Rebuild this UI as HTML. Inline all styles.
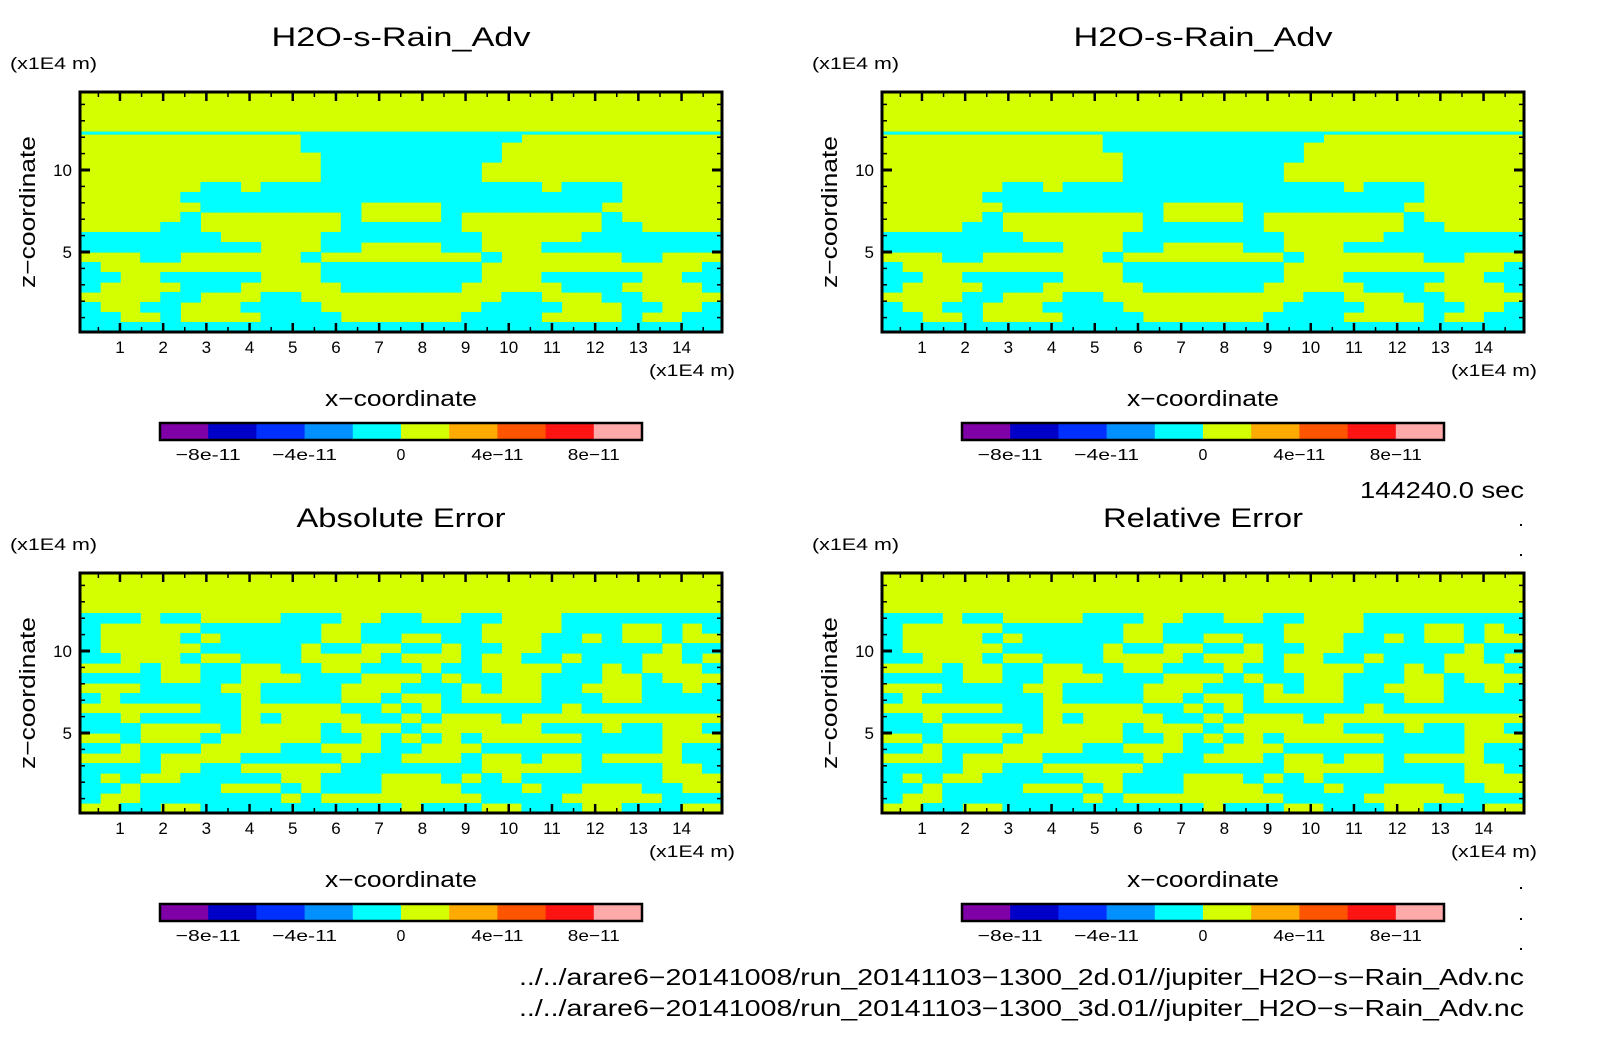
<!DOCTYPE html>
<html><head><meta charset="utf-8"><style>
html,body{margin:0;padding:0;background:#fff;}
svg{display:block;font-family:"Liberation Sans",sans-serif;}
</style></head><body>
<svg id="fig" width="1604" height="1054" viewBox="0 0 1604 1054" xmlns="http://www.w3.org/2000/svg"></svg>
<script>
// ---- data ----
const panelTitles = ["H2O-s-Rain_Adv","H2O-s-Rain_Adv","Absolute Error","Relative Error"];
const panelTitleWidths = [259,259,209,200];
const xTicks = [1,2,3,4,5,6,7,8,9,10,11,12,13,14];
const yTicks = [5,10];
const colorbarColors = ["#8000a8","#0000c8","#0030ff","#0090ff","#00ffff","#d4ff00","#ffaa00","#ff5500","#ff1414","#ffaaaa"];
const colorbarLabels = ["-8e-11","-4e-11","0","4e-11","8e-11"];
const colorbarLabelIdx = [1,3,5,7,9];
const thinLineLevel = 12.25;
const fieldTop = [
"................................",
"................................",
"................................",
"................................",
"...........ccccccccccc..........",
"...........cccccccccc...........",
"............ccccccccc...........",
"............cccccccc............",
"............cccccccc............",
"......cc.cccccccccccccc.ccc.....",
".....cccccccccccccccccccccc.....",
"......cccccccc....cccccccc......",
".....c.......c....c.......c.....",
"....cc.......cccccc.......cc....",
"ccccccc.....cccccccc.....ccccccc",
"ccccccccc...cc....cc...ccccccccc",
"...cc......c........c......cc...",
"c...........cccccccc...........c",
"cc..ccccc...cccccccc...ccccc..cc",
"c....ccc.....cccccc.....ccc....c",
"....cc...cc..........cc...cc....",
"c..cc...cccc........cccc...cc..c",
"cc..c....cccc......cccc....c..cc",
"cccccccccccccccccccccccccccccccc"];
const fieldErr = [
"................................",
"................................",
"................................",
"................................",
"ccc.cc....ccc..cc..cc...cccccccc",
"c.....cccccc..cccccc....ccc..c.c",
"c....c.ccccc..cc..cc...cc.c..c..",
"c.....ccccc.cc..cc.cc..cccccc.cc",
"cc...c..ccc....c...c..cc.ccc..c.",
"...c..cc..cc..ccc.cc....cc.c...c",
"cccc..cc...ccc...c.cc..ccc..c...",
"...cccc..cccc...ccc.c..cc...cc.c",
"c.cccccc.cccc..c..c....ccc..cccc",
"......cc.....cc.c.cccccc.ccccccc",
"cc.ccccc.c....cc.c...c..........",
"ccc....c....c...c......ccc.cc..c",
"..c...c.....cc.c.c.c.....cccc...",
"cc.ccc....cc...cc...ccccccccc.cc",
"...c....ccccc.cc...c..c..c....cc",
"cccc..cc.....ccccccc.....cccc..c",
"c.c..ccccc..ccc...c.c.ccccccc...",
"cc.cccc...c.ccc....ccc.cc...cc..",
"c..ccccccc.c........cccc.....ccc",
"..cc..cccccccccc.ccc..ccc..ccc.."];
const fields = [fieldTop, fieldTop, fieldErr, fieldErr];

// ---- layout ----
const NS = "http://www.w3.org/2000/svg";
const svg = document.getElementById('fig');
const panels = [{x:80,y:92},{x:882,y:92},{x:80,y:573},{x:882,y:573}];
const PW = 642, PH = 240, X0 = 0.075, XS = 43.2, YS = 16.4;
const YEL = "#d4ff00", CYA = "#00ffff";
function el(tag, attrs, parent){ const e=document.createElementNS(NS,tag); for(const k in attrs) e.setAttribute(k,attrs[k]); (parent||svg).appendChild(e); return e; }
function txt(s, attrs, parent){ const e=el('text',attrs,parent); e.textContent=s; return e; }
function fit(attrs, w){ attrs.textLength = w; attrs.lengthAdjust = 'spacingAndGlyphs'; return attrs; }

panels.forEach((p, pi) => {
  const g = el('g', {});
  
  
  const xs = v => p.x + (v - X0) * XS;
  const ys = v => p.y + PH + 2 - v * YS;
  const cx = p.x + PW/2;
  const t = txt(panelTitles[pi], fit({x:cx, y:p.y-46, 'font-size':27, 'text-anchor':'middle', fill:'#000'}, panelTitleWidths[pi]), g);
  
  
  const yu = txt('(x1E4 m)', fit({x:p.x-70, y:p.y-23, 'font-size':17, fill:'#000'}, 87), g);
  
  
  // field cells
  const fg = el('g', {}, g);
  
  
  el('rect', {x:p.x, y:p.y, width:PW, height:PH, fill:YEL}, fg);
  const field = fields[pi];
  const nr = field.length, nc = field[0].length;
  const cw = PW/nc, ch = PH/nr;
  field.forEach((row, r) => {
    for (let c = 0; c < nc; c++) {
      if (row[c] === 'c') {
        const cell = el('rect', {x:p.x + c*cw, y:p.y + r*ch, width:cw+0.6, height:ch+0.6, fill:CYA}, fg);
        
        
      }
    }
  });
  if (pi < 2) {
    const ln = el('rect', {x:p.x, y:ys(thinLineLevel)-1.5, width:PW, height:3, fill:CYA}, fg);
    
    
  }
  // frame
  const fr = el('rect', {x:p.x, y:p.y, width:PW, height:PH, fill:'none', stroke:'#000', 'stroke-width':3}, g);
  
  
  // x ticks
  for (let v = 0.5; v < 15; v += 0.5) {
    const X = xs(v); if (X <= p.x+2 || X >= p.x+PW-2) continue;
    const major = Number.isInteger(v) && xTicks.includes(v);
    const L = major ? 9 : 5, w = major ? 2.5 : 1.5;
    el('line', {x1:X, y1:p.y, x2:X, y2:p.y+L, stroke:'#000', 'stroke-width':w}, g);
    el('line', {x1:X, y1:p.y+PH, x2:X, y2:p.y+PH-L, stroke:'#000', 'stroke-width':w}, g);
  }
  xTicks.forEach(v => {
    const l = txt(String(v), {x:xs(v), y:p.y+PH+21, 'font-size':17, 'text-anchor':'middle', fill:'#000'}, g);
    
    
  });
  // y ticks
  for (let v = 1; v <= 14; v++) {
    const Y = ys(v);
    const major = yTicks.includes(v);
    const L = major ? 10 : 5, w = major ? 3 : 1.5;
    el('line', {x1:p.x, y1:Y, x2:p.x+L, y2:Y, stroke:'#000', 'stroke-width':w}, g);
    el('line', {x1:p.x+PW, y1:Y, x2:p.x+PW-L, y2:Y, stroke:'#000', 'stroke-width':w}, g);
  }
  yTicks.forEach(v => {
    const l = txt(String(v), {x:p.x-8, y:ys(v)+6, 'font-size':17, 'text-anchor':'end', fill:'#000'}, g);
    
    
  });
  const xu = txt('(x1E4 m)', fit({x:p.x+PW+13-86, y:p.y+PH+44, 'font-size':17, fill:'#000'}, 86), g);
  
  
  const xt = txt('x\u2212coordinate', fit({x:cx, y:p.y+PH+74, 'font-size':22, 'text-anchor':'middle', fill:'#000'}, 152), g);
  
  
  const yt = txt('z\u2212coordinate', fit({x:0, y:0, 'font-size':22, 'text-anchor':'middle', fill:'#000', transform:`translate(${p.x-45},${p.y+120}) rotate(-90)`}, 152), g);
  
  
  // colorbar
  const cb = el('g', {}, g);
  
  
  const cbx = p.x + 80, cby = p.y + 331, cbw = 482, cbh = 17, sw = cbw / colorbarColors.length;
  colorbarColors.forEach((c, i) => {
    const s = el('rect', {x:cbx + i*sw, y:cby, width:sw+0.5, height:cbh, fill:c}, cb);
    
    
  });
  el('rect', {x:cbx, y:cby, width:cbw, height:cbh, fill:'none', stroke:'#000', 'stroke-width':2.5}, cb);
  colorbarLabels.forEach((s, i) => {
    const a = {x:cbx + colorbarLabelIdx[i]*sw, y:cby+37, 'font-size':16, 'text-anchor':'middle', fill:'#000'};
    if (s.length > 1) fit(a, s.length === 6 ? 65 : 52);
    const l = txt(s.replace('-', '\u2212'), a, cb);
    
    
  });
});

const tm = txt('144240.0 sec', fit({x:1524-164, y:498, 'font-size':23, fill:'#000'}, 164));


const p1 = txt('../../arare6\u221220141008/run_20141103\u22121300_2d.01//jupiter_H2O\u2212s\u2212Rain_Adv.nc', fit({x:1524-1005, y:985, 'font-size':23, fill:'#000'}, 1005));


const p2 = txt('../../arare6\u221220141008/run_20141103\u22121300_3d.01//jupiter_H2O\u2212s\u2212Rain_Adv.nc', fit({x:1524-1005, y:1016, 'font-size':23, fill:'#000'}, 1005));


[525,555,857,888,919,949].forEach(y => {
  const d = el('rect', {x:1520, y:y-1, width:2, height:2, fill:'#000'});
  
  
});
</script>
</body></html>
